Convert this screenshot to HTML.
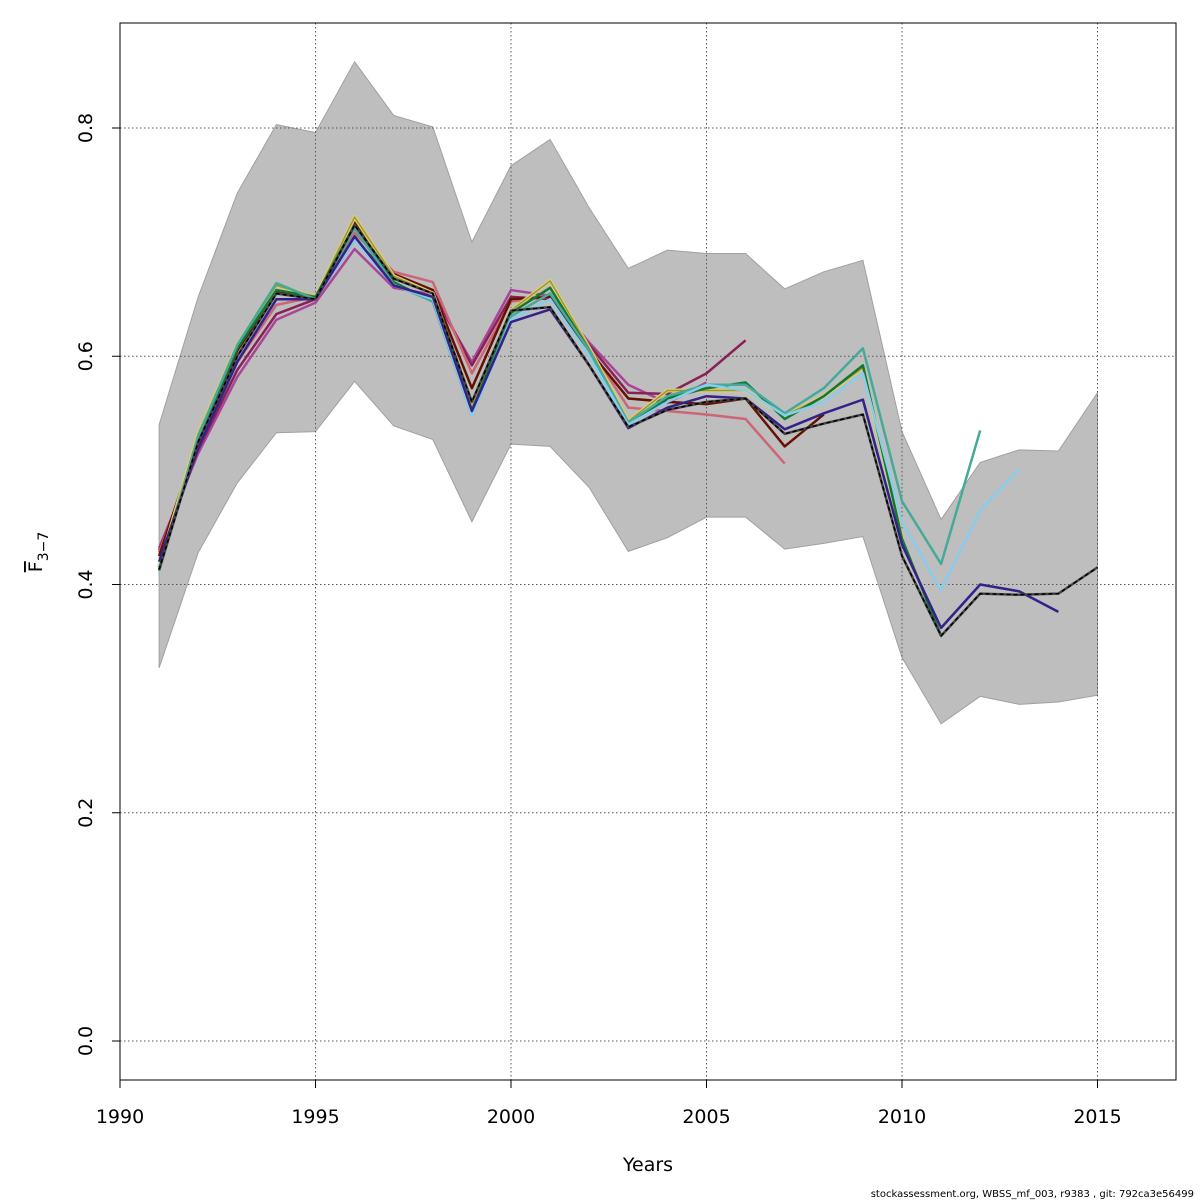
<!DOCTYPE html>
<html><head><meta charset="utf-8"><style>
html,body{margin:0;padding:0;background:#fff;}
svg{display:block;font-family:"DejaVu Sans","Liberation Sans",sans-serif;}
</style></head><body>
<svg id="chart" width="1200" height="1200" viewBox="0 0 1200 1200" xmlns="http://www.w3.org/2000/svg">
<g id="band"></g>
<g id="grid"></g>
<g id="lines"></g>
<rect x="120" y="23" width="1056" height="1057" fill="none" stroke="#000" stroke-width="1"/>
<g id="axes"></g>
<text x="648" y="1171" font-size="19" text-anchor="middle">Years</text>
<text transform="translate(42,552) rotate(-90)" font-size="19" text-anchor="middle"><tspan text-decoration="overline">F</tspan><tspan font-size="14" dy="6">3−7</tspan></text>
<text x="1194" y="1197" font-size="10" text-anchor="end">stockassessment.org, WBSS_mf_003, r9383 , git: 792ca3e56499</text>
</svg>
<script>
const years = [1991,1992,1993,1994,1995,1996,1997,1998,1999,2000,2001,2002,2003,2004,2005,2006,2007,2008,2009,2010,2011,2012,2013,2014,2015];
const bandUpper = [0.540,0.652,0.743,0.803,0.796,0.858,0.811,0.801,0.700,0.767,0.790,0.730,0.677,0.693,0.690,0.690,0.659,0.674,0.684,0.534,0.457,0.507,0.518,0.517,0.568];
const bandLower = [0.327,0.428,0.489,0.533,0.534,0.578,0.539,0.527,0.455,0.523,0.521,0.485,0.429,0.441,0.459,0.459,0.431,0.436,0.442,0.336,0.278,0.302,0.295,0.297,0.303];
const fMain = [0.413,0.525,0.600,0.655,0.650,0.715,0.668,0.655,0.560,0.640,0.643,0.592,0.538,0.553,0.560,0.563,0.532,0.541,0.549,0.425,0.355,0.392,0.391,0.392,0.415];
const peel2014 = [0.420,0.520,0.595,0.650,0.650,0.705,0.662,0.652,0.552,0.630,0.641,0.592,0.537,0.555,0.565,0.563,0.536,0.550,0.562,0.435,0.362,0.400,0.394,0.376];
const peel2013 = [0.415,0.525,0.600,0.655,0.650,0.702,0.662,0.650,0.548,0.632,0.650,0.600,0.540,0.560,0.575,0.570,0.548,0.560,0.585,0.455,0.395,0.465,0.501];
const peel2012 = [0.412,0.530,0.610,0.664,0.650,0.712,0.663,0.648,0.548,0.635,0.655,0.605,0.542,0.565,0.575,0.575,0.550,0.572,0.607,0.473,0.418,0.535];
const peel2011 = [0.412,0.528,0.607,0.658,0.652,0.715,0.665,0.648,0.552,0.638,0.660,0.605,0.540,0.563,0.572,0.577,0.545,0.565,0.592,0.440,0.355];
const peel2010 = [0.415,0.532,0.610,0.662,0.652,0.722,0.670,0.655,0.555,0.640,0.666,0.607,0.543,0.570,0.570,0.570,0.548,0.565,0.590,0.440];
const peel2008 = [0.425,0.528,0.605,0.657,0.652,0.718,0.672,0.658,0.572,0.650,0.652,0.605,0.563,0.560,0.558,0.563,0.521,0.549];
const peel2007 = [0.428,0.522,0.595,0.645,0.652,0.708,0.674,0.665,0.585,0.648,0.652,0.608,0.555,0.552,0.549,0.545,0.506];
const peel2006 = [0.430,0.518,0.588,0.637,0.650,0.702,0.668,0.658,0.592,0.652,0.650,0.610,0.568,0.567,0.585,0.614];
const peel2005 = [0.432,0.515,0.582,0.632,0.647,0.694,0.660,0.654,0.595,0.658,0.653,0.612,0.575,0.559,0.577];
const xTicks = [1990,1995,2000,2005,2010,2015];
const yTicks = [0.0,0.2,0.4,0.6,0.8];
const yTickLabels = ["0.0","0.2","0.4","0.6","0.8"];

const X = y => 120 + (y - 1990) * 39.1;
const Y = v => 1041 - v * 1141.25;
const NS = "http://www.w3.org/2000/svg";
function mk(tag, parent) { const e = document.createElementNS(NS, tag); parent.appendChild(e); return e; }

const band = document.getElementById('band');
let pts = years.map((y,i)=>X(y)+','+Y(bandUpper[i]));
pts = pts.concat(years.slice().reverse().map((y,j)=>X(y)+','+Y(bandLower[years.length-1-j])));
const poly = mk('polygon', band);
poly.setAttribute('points', pts.join(' '));
poly.setAttribute('fill', '#bebebe');
poly.setAttribute('stroke', '#a0a0a0');
poly.setAttribute('stroke-width', '1');



const grid = document.getElementById('grid');
xTicks.forEach(t => {
  const l = mk('line', grid);
  l.setAttribute('x1', X(t)); l.setAttribute('x2', X(t)); l.setAttribute('y1', 23); l.setAttribute('y2', 1080);
  l.setAttribute('stroke', '#555'); l.setAttribute('stroke-dasharray', '1.5,2.5');
  
  
});
yTicks.forEach(t => {
  const l = mk('line', grid);
  l.setAttribute('x1', 120); l.setAttribute('x2', 1176); l.setAttribute('y1', Y(t)); l.setAttribute('y2', Y(t));
  l.setAttribute('stroke', '#555'); l.setAttribute('stroke-dasharray', '1.5,2.5');
  
  
});

const lines = document.getElementById('lines');
function drawLine(vals, color, name, width, dash) {
  const p = mk('polyline', lines);
  p.setAttribute('points', vals.map((v,i)=>X(years[i])+','+Y(v)).join(' '));
  p.setAttribute('fill', 'none');
  p.setAttribute('stroke', color);
  p.setAttribute('stroke-width', width);
  p.setAttribute('stroke-linejoin', 'round');
  if (dash) p.setAttribute('stroke-dasharray', dash);
  
  
}
drawLine(peel2005, '#aa4499', 'peel-2005-line', 2.5);
drawLine(peel2006, '#882255', 'peel-2006-line', 2.5);
drawLine(peel2007, '#cc6677', 'peel-2007-line', 2.5);
drawLine(peel2008, '#661100', 'peel-2008-line', 2.5);
drawLine(peel2010, '#ddcc77', 'peel-2010-line', 4);
drawLine(peel2010, '#999933', 'peel-2010-line-inner', 1.5);
drawLine(peel2011, '#117733', 'peel-2011-line', 2.5);
drawLine(peel2012, '#44aa99', 'peel-2012-line', 2.5);
drawLine(peel2013, '#88ccee', 'peel-2013-line', 2.5);
drawLine(peel2014, '#332288', 'peel-2014-line', 2.5);
drawLine(fMain, '#444444', 'fbar-estimate-line', 2.5);
drawLine(fMain, '#000000', 'fbar-estimate-dash', 1.5, '4,3');

const axes = document.getElementById('axes');
xTicks.forEach(t => {
  const l = mk('line', axes);
  l.setAttribute('x1', X(t)); l.setAttribute('x2', X(t)); l.setAttribute('y1', 1080); l.setAttribute('y2', 1088);
  l.setAttribute('stroke', '#000');
  
  
  const tx = mk('text', axes);
  tx.setAttribute('x', X(t)); tx.setAttribute('y', 1123); tx.setAttribute('font-size', '19'); tx.setAttribute('text-anchor', 'middle');
  tx.textContent = t;
  
  
});
yTicks.forEach((t,i) => {
  const l = mk('line', axes);
  l.setAttribute('x1', 112); l.setAttribute('x2', 120); l.setAttribute('y1', Y(t)); l.setAttribute('y2', Y(t));
  l.setAttribute('stroke', '#000');
  
  
  const tx = mk('text', axes);
  tx.setAttribute('transform', 'translate(92,' + Y(t) + ') rotate(-90)');
  tx.setAttribute('font-size', '19'); tx.setAttribute('text-anchor', 'middle');
  tx.textContent = yTickLabels[i];
  
  
});
</script>
</body></html>
